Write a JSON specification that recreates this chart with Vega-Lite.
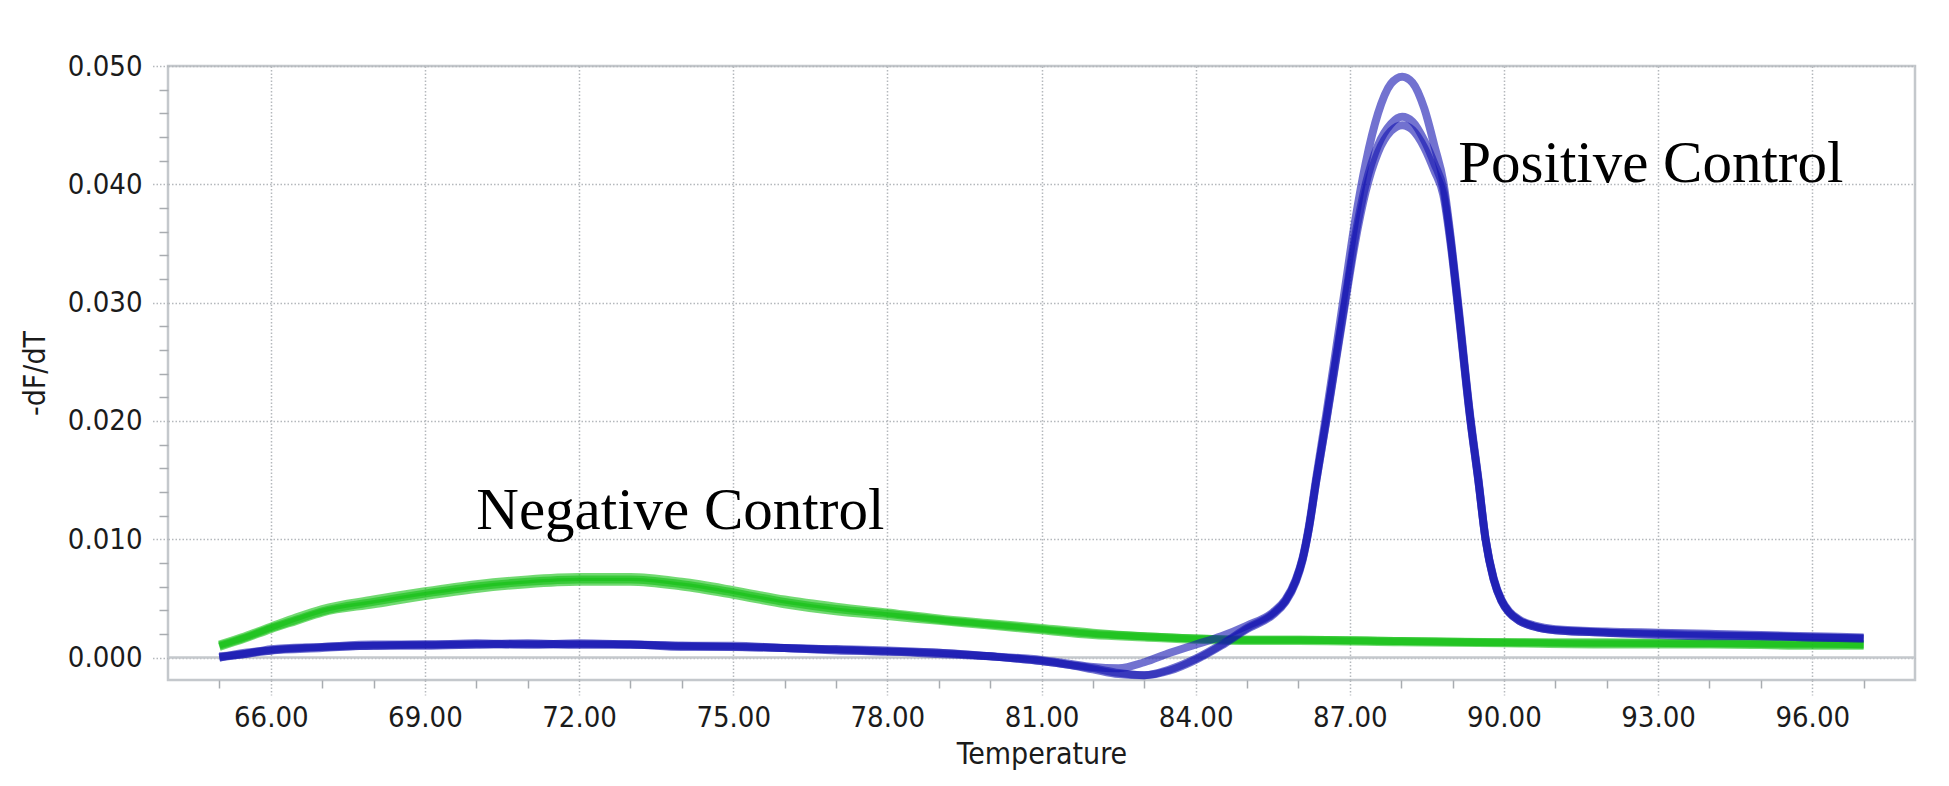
{
  "$schema": "https://vega.github.io/schema/vega-lite/v6.json",
  "width": 1747,
  "height": 614,
  "autosize": {"type": "none"},
  "padding": {"left": 168, "top": 66, "right": 34, "bottom": 106},
  "background": "white",
  "config": {
    "view": {"stroke": "#c4c8cc", "strokeWidth": 2.5},
    "axis": {"labelFont": "DejaVu Sans Condensed, DejaVu Sans", "titleFont": "DejaVu Sans Condensed, DejaVu Sans", "labelColor": "#1b1b1b", "titleColor": "#1b1b1b", "titleFontWeight": "normal"}
  },
  "datasets": {
    "blue": [
      {"s":"A","t":65,"v":0.0000},{"s":"A","t":65.5,"v":0.0003},{"s":"A","t":66,"v":0.0006},{"s":"A","t":67,"v":0.0009},{"s":"A","t":68,"v":0.0010},{"s":"A","t":69,"v":0.0011},{"s":"A","t":70,"v":0.0011},{"s":"A","t":71,"v":0.0011},{"s":"A","t":72,"v":0.0011},{"s":"A","t":73,"v":0.0011},{"s":"A","t":74,"v":0.0010},{"s":"A","t":75,"v":0.0009},{"s":"A","t":76,"v":0.0008},{"s":"A","t":77,"v":0.0007},{"s":"A","t":78,"v":0.0005},{"s":"A","t":79,"v":0.0004},{"s":"A","t":80,"v":0.0001},{"s":"A","t":81,"v":-0.0003},{"s":"A","t":81.5,"v":-0.0006},{"s":"A","t":82,"v":-0.0009},{"s":"A","t":82.5,"v":-0.0013},{"s":"A","t":83,"v":-0.0015},{"s":"A","t":83.5,"v":-0.0011},{"s":"A","t":84,"v":-0.0002},{"s":"A","t":84.5,"v":0.0010},{"s":"A","t":85,"v":0.0024},{"s":"A","t":85.5,"v":0.0036},{"s":"A","t":85.75,"v":0.0047},{"s":"A","t":85.95,"v":0.0064},{"s":"A","t":86.08,"v":0.0082},{"s":"A","t":86.2,"v":0.0108},{"s":"A","t":86.35,"v":0.0150},{"s":"A","t":86.54,"v":0.0200},{"s":"A","t":86.72,"v":0.0250},{"s":"A","t":86.9,"v":0.0300},{"s":"A","t":87.1,"v":0.0355},{"s":"A","t":87.31,"v":0.0400},{"s":"A","t":87.55,"v":0.0433},{"s":"A","t":87.8,"v":0.0451},{"s":"A","t":88.02,"v":0.0457},{"s":"A","t":88.22,"v":0.0453},{"s":"A","t":88.45,"v":0.0437},{"s":"A","t":88.65,"v":0.0417},{"s":"A","t":88.82,"v":0.0396},{"s":"A","t":88.97,"v":0.0350},{"s":"A","t":89.1,"v":0.0300},{"s":"A","t":89.35,"v":0.0200},{"s":"A","t":89.5,"v":0.0150},{"s":"A","t":89.64,"v":0.0100},{"s":"A","t":89.8,"v":0.0066},{"s":"A","t":89.95,"v":0.0048},{"s":"A","t":90.1,"v":0.0038},{"s":"A","t":90.3,"v":0.0031},{"s":"A","t":90.6,"v":0.0026},{"s":"A","t":91,"v":0.0023},{"s":"A","t":92,"v":0.0021},{"s":"A","t":93,"v":0.0020},{"s":"A","t":94,"v":0.0019},{"s":"A","t":95,"v":0.0018},{"s":"A","t":96,"v":0.0017},{"s":"A","t":97,"v":0.0016},

      {"s":"B","t":65,"v":0.0001},{"s":"B","t":65.5,"v":0.0003},{"s":"B","t":66,"v":0.0007},{"s":"B","t":67,"v":0.0009},{"s":"B","t":68,"v":0.0011},{"s":"B","t":69,"v":0.0011},{"s":"B","t":70,"v":0.0012},{"s":"B","t":71,"v":0.0011},{"s":"B","t":72,"v":0.0012},{"s":"B","t":73,"v":0.0011},{"s":"B","t":74,"v":0.0010},{"s":"B","t":75,"v":0.0010},{"s":"B","t":76,"v":0.0008},{"s":"B","t":77,"v":0.0007},{"s":"B","t":78,"v":0.0006},{"s":"B","t":79,"v":0.0004},{"s":"B","t":80,"v":0.0001},{"s":"B","t":81,"v":-0.0003},{"s":"B","t":81.5,"v":-0.0006},{"s":"B","t":82,"v":-0.0010},{"s":"B","t":82.5,"v":-0.0014},{"s":"B","t":83,"v":-0.0015},{"s":"B","t":83.5,"v":-0.0010},{"s":"B","t":84,"v":-0.0001},{"s":"B","t":84.5,"v":0.0011},{"s":"B","t":85,"v":0.0025},{"s":"B","t":85.5,"v":0.0037},{"s":"B","t":85.75,"v":0.0048},{"s":"B","t":85.95,"v":0.0065},{"s":"B","t":86.08,"v":0.0083},{"s":"B","t":86.2,"v":0.0108},{"s":"B","t":86.35,"v":0.0150},{"s":"B","t":86.54,"v":0.0199},{"s":"B","t":86.72,"v":0.0248},{"s":"B","t":86.9,"v":0.0297},{"s":"B","t":87.1,"v":0.0350},{"s":"B","t":87.31,"v":0.0394},{"s":"B","t":87.55,"v":0.0427},{"s":"B","t":87.8,"v":0.0445},{"s":"B","t":88.02,"v":0.0450},{"s":"B","t":88.22,"v":0.0446},{"s":"B","t":88.45,"v":0.0431},{"s":"B","t":88.65,"v":0.0411},{"s":"B","t":88.82,"v":0.0391},{"s":"B","t":88.97,"v":0.0347},{"s":"B","t":89.1,"v":0.0298},{"s":"B","t":89.35,"v":0.0199},{"s":"B","t":89.5,"v":0.0150},{"s":"B","t":89.64,"v":0.0101},{"s":"B","t":89.8,"v":0.0067},{"s":"B","t":89.95,"v":0.0049},{"s":"B","t":90.1,"v":0.0039},{"s":"B","t":90.3,"v":0.0032},{"s":"B","t":90.6,"v":0.0027},{"s":"B","t":91,"v":0.0024},{"s":"B","t":92,"v":0.0022},{"s":"B","t":93,"v":0.0021},{"s":"B","t":94,"v":0.0020},{"s":"B","t":95,"v":0.0019},{"s":"B","t":96,"v":0.0018},{"s":"B","t":97,"v":0.0017},

      {"s":"C","t":65,"v":0.0000},{"s":"C","t":65.5,"v":0.0004},{"s":"C","t":66,"v":0.0006},{"s":"C","t":67,"v":0.0008},{"s":"C","t":68,"v":0.0010},{"s":"C","t":69,"v":0.0010},{"s":"C","t":70,"v":0.0011},{"s":"C","t":71,"v":0.0012},{"s":"C","t":72,"v":0.0011},{"s":"C","t":73,"v":0.0011},{"s":"C","t":74,"v":0.0009},{"s":"C","t":75,"v":0.0009},{"s":"C","t":76,"v":0.0008},{"s":"C","t":77,"v":0.0006},{"s":"C","t":78,"v":0.0005},{"s":"C","t":79,"v":0.0003},{"s":"C","t":80,"v":0.0001},{"s":"C","t":81,"v":-0.0002},{"s":"C","t":81.5,"v":-0.0005},{"s":"C","t":82,"v":-0.0008},{"s":"C","t":82.5,"v":-0.0009},{"s":"C","t":83,"v":-0.0004},{"s":"C","t":83.5,"v":0.0004},{"s":"C","t":84,"v":0.0011},{"s":"C","t":84.5,"v":0.0018},{"s":"C","t":85,"v":0.0027},{"s":"C","t":85.5,"v":0.0038},{"s":"C","t":85.75,"v":0.0049},{"s":"C","t":85.95,"v":0.0066},{"s":"C","t":86.08,"v":0.0084},{"s":"C","t":86.2,"v":0.0110},{"s":"C","t":86.35,"v":0.0153},{"s":"C","t":86.54,"v":0.0205},{"s":"C","t":86.72,"v":0.0257},{"s":"C","t":86.9,"v":0.0310},{"s":"C","t":87.1,"v":0.0368},{"s":"C","t":87.31,"v":0.0418},{"s":"C","t":87.55,"v":0.0460},{"s":"C","t":87.8,"v":0.0485},{"s":"C","t":88.02,"v":0.0491},{"s":"C","t":88.22,"v":0.0486},{"s":"C","t":88.45,"v":0.0464},{"s":"C","t":88.65,"v":0.0432},{"s":"C","t":88.82,"v":0.0402},{"s":"C","t":88.97,"v":0.0353},{"s":"C","t":89.1,"v":0.0303},{"s":"C","t":89.35,"v":0.0202},{"s":"C","t":89.5,"v":0.0152},{"s":"C","t":89.64,"v":0.0101},{"s":"C","t":89.8,"v":0.0066},{"s":"C","t":89.95,"v":0.0048},{"s":"C","t":90.1,"v":0.0038},{"s":"C","t":90.3,"v":0.0031},{"s":"C","t":90.6,"v":0.0026},{"s":"C","t":91,"v":0.0023},{"s":"C","t":92,"v":0.0021},{"s":"C","t":93,"v":0.0019},{"s":"C","t":94,"v":0.0018},{"s":"C","t":95,"v":0.0018},{"s":"C","t":96,"v":0.0017},{"s":"C","t":97,"v":0.0016}
    ],
    "green": [
      {"s":"G1","t":65,"v":0.0010},{"s":"G1","t":65.5,"v":0.0017},{"s":"G1","t":66,"v":0.0025},{"s":"G1","t":66.5,"v":0.0032},{"s":"G1","t":67,"v":0.0039},{"s":"G1","t":68,"v":0.0047},{"s":"G1","t":69,"v":0.0054},{"s":"G1","t":70,"v":0.0060},{"s":"G1","t":71,"v":0.0064},{"s":"G1","t":72,"v":0.0066},{"s":"G1","t":73,"v":0.0066},{"s":"G1","t":74,"v":0.0062},{"s":"G1","t":75,"v":0.0055},{"s":"G1","t":76,"v":0.0047},{"s":"G1","t":77,"v":0.0041},{"s":"G1","t":78,"v":0.0037},{"s":"G1","t":79,"v":0.0032},{"s":"G1","t":80,"v":0.0028},{"s":"G1","t":81,"v":0.0024},{"s":"G1","t":82,"v":0.0020},{"s":"G1","t":83,"v":0.0018},{"s":"G1","t":84,"v":0.0016},{"s":"G1","t":85,"v":0.0015},{"s":"G1","t":86,"v":0.0015},{"s":"G1","t":88,"v":0.0014},{"s":"G1","t":90,"v":0.0013},{"s":"G1","t":92,"v":0.0012},{"s":"G1","t":94,"v":0.0012},{"s":"G1","t":96,"v":0.0011},{"s":"G1","t":97,"v":0.0011},

      {"s":"G2","t":65,"v":0.0011},{"s":"G2","t":65.5,"v":0.0018},{"s":"G2","t":66,"v":0.0026},{"s":"G2","t":66.5,"v":0.0034},{"s":"G2","t":67,"v":0.0041},{"s":"G2","t":68,"v":0.0049},{"s":"G2","t":69,"v":0.0056},{"s":"G2","t":70,"v":0.0062},{"s":"G2","t":71,"v":0.0066},{"s":"G2","t":72,"v":0.0068},{"s":"G2","t":73,"v":0.0068},{"s":"G2","t":74,"v":0.0064},{"s":"G2","t":75,"v":0.0057},{"s":"G2","t":76,"v":0.0049},{"s":"G2","t":77,"v":0.0043},{"s":"G2","t":78,"v":0.0038},{"s":"G2","t":79,"v":0.0033},{"s":"G2","t":80,"v":0.0029},{"s":"G2","t":81,"v":0.0025},{"s":"G2","t":82,"v":0.0021},{"s":"G2","t":83,"v":0.0018},{"s":"G2","t":84,"v":0.0016},{"s":"G2","t":85,"v":0.0015},{"s":"G2","t":86,"v":0.0015},{"s":"G2","t":88,"v":0.0014},{"s":"G2","t":90,"v":0.0013},{"s":"G2","t":92,"v":0.0013},{"s":"G2","t":94,"v":0.0012},{"s":"G2","t":96,"v":0.0012},{"s":"G2","t":97,"v":0.0011},

      {"s":"G3","t":65,"v":0.0009},{"s":"G3","t":65.5,"v":0.0016},{"s":"G3","t":66,"v":0.0024},{"s":"G3","t":66.5,"v":0.0031},{"s":"G3","t":67,"v":0.0038},{"s":"G3","t":68,"v":0.0045},{"s":"G3","t":69,"v":0.0052},{"s":"G3","t":70,"v":0.0058},{"s":"G3","t":71,"v":0.0062},{"s":"G3","t":72,"v":0.0064},{"s":"G3","t":73,"v":0.0064},{"s":"G3","t":74,"v":0.0060},{"s":"G3","t":75,"v":0.0053},{"s":"G3","t":76,"v":0.0045},{"s":"G3","t":77,"v":0.0039},{"s":"G3","t":78,"v":0.0035},{"s":"G3","t":79,"v":0.0031},{"s":"G3","t":80,"v":0.0027},{"s":"G3","t":81,"v":0.0023},{"s":"G3","t":82,"v":0.0019},{"s":"G3","t":83,"v":0.0017},{"s":"G3","t":84,"v":0.0015},{"s":"G3","t":85,"v":0.0014},{"s":"G3","t":86,"v":0.0014},{"s":"G3","t":88,"v":0.0013},{"s":"G3","t":90,"v":0.0012},{"s":"G3","t":92,"v":0.0011},{"s":"G3","t":94,"v":0.0011},{"s":"G3","t":96,"v":0.0010},{"s":"G3","t":97,"v":0.0010}
    ],
    "labels": [
      {"label": "Negative Control", "t": 70.0, "v": 0.0109},
      {"label": "Positive Control", "t": 89.11, "v": 0.0402}
    ]
  },
  "resolve": {"axis": {"x": "independent", "y": "independent"}},
  "layer": [
    {
      "data": {"values": [{"z": 0}]},
      "mark": {"type": "rule", "color": "#c4c8cc", "strokeWidth": 2.5},
      "encoding": {
        "y": {"field": "z", "type": "quantitative", "scale": {"domain": [-0.0019, 0.05], "nice": false, "zero": false}, "axis": null}
      }
    },
    {
      "data": {"name": "green"},
      "mark": {"type": "line", "strokeWidth": 8, "opacity": 0.6, "interpolate": "monotone", "color": "#14c014"},
      "encoding": {
        "x": {"field": "t", "type": "quantitative", "scale": {"domain": [64, 98], "nice": false, "zero": false},
              "axis": {"orient": "bottom", "values": [65,67,68,70,71,73,74,76,77,79,80,82,83,85,86,88,89,91,92,94,95,97], "labels": false, "grid": false, "domain": false, "tickSize": 8, "tickColor": "#a8acb0", "tickWidth": 1.5, "title": null}},
        "y": {"field": "v", "type": "quantitative", "scale": {"domain": [-0.0019, 0.05], "nice": false, "zero": false},
              "axis": {"orient": "left", "values": [0.002,0.004,0.006,0.008,0.012,0.014,0.016,0.018,0.022,0.024,0.026,0.028,0.032,0.034,0.036,0.038,0.042,0.044,0.046,0.048], "labels": false, "grid": false, "domain": false, "tickSize": 9, "tickColor": "#a8acb0", "tickWidth": 1.5, "title": null}},
        "detail": {"field": "s", "type": "nominal"}
      }
    },
    {
      "data": {"name": "blue"},
      "mark": {"type": "line", "strokeWidth": 8, "opacity": 0.6, "interpolate": "monotone", "color": "#1414b0"},
      "encoding": {
        "x": {"field": "t", "type": "quantitative", "scale": {"domain": [64, 98], "nice": false, "zero": false},
              "axis": {"orient": "bottom", "values": [66,69,72,75,78,81,84,87,90,93,96], "format": ".2f", "labelFontSize": 29, "labelPadding": 8, "labelOverlap": false, "labelFlush": false,
                       "grid": true, "gridDash": [1.5, 2], "gridColor": "#b4b8bc", "gridWidth": 1.5,
                       "ticks": true, "tickDash": [1.5, 2], "tickColor": "#b4b8bc", "tickWidth": 1.5, "tickSize": 15, "domain": false,
                       "title": "Temperature", "titleFontSize": 30, "titleBaseline": "alphabetic", "titleY": 83}},
        "y": {"field": "v", "type": "quantitative", "scale": {"domain": [-0.0019, 0.05], "nice": false, "zero": false},
              "axis": {"orient": "left", "values": [0, 0.01, 0.02, 0.03, 0.04, 0.05], "format": ".3f", "labelFontSize": 29, "labelPadding": 10, "labelOverlap": false, "labelFlush": false,
                       "grid": true, "gridDash": [1.5, 2], "gridColor": "#b4b8bc", "gridWidth": 1.5,
                       "ticks": true, "tickDash": [1.5, 2], "tickColor": "#b4b8bc", "tickWidth": 1.5, "tickSize": 16, "domain": false,
                       "title": "-dF/dT", "titleFontSize": 30, "titleX": -133, "titleBaseline": "middle", "titleAngle": 270}},
        "detail": {"field": "s", "type": "nominal"}
      }
    },
    {
      "data": {"name": "labels"},
      "mark": {"type": "text", "align": "left", "baseline": "alphabetic", "font": "Liberation Serif", "fontSize": 59, "color": "#000000"},
      "encoding": {
        "x": {"field": "t", "type": "quantitative", "axis": null},
        "y": {"field": "v", "type": "quantitative", "axis": null},
        "text": {"field": "label"}
      }
    }
  ]
}
